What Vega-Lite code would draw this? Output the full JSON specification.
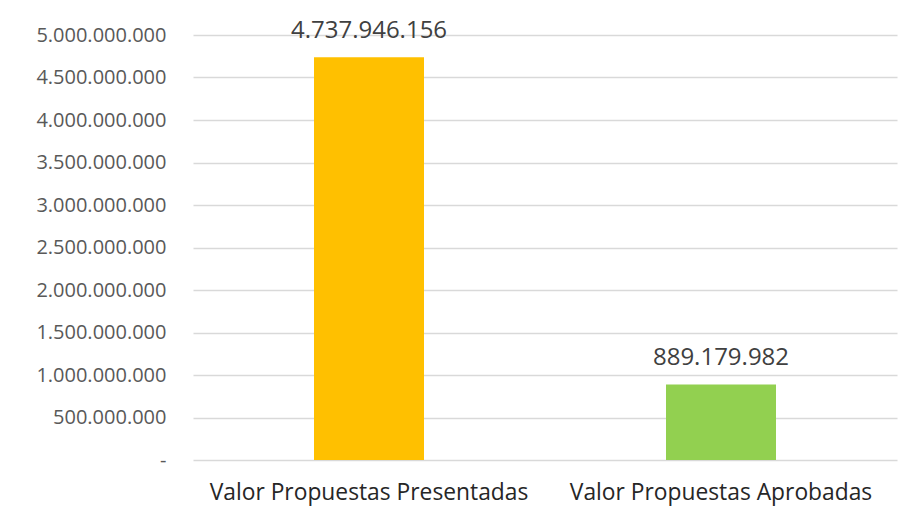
{
  "$schema": "https://vega.github.io/schema/vega-lite/v6.json",
  "width": 704,
  "height": 425,
  "autosize": {"type": "none"},
  "padding": {"left": 193, "top": 35, "right": 14, "bottom": 57},
  "background": "white",
  "config": {
    "locale": {"number": {"decimal": ",", "thousands": ".", "grouping": [3], "currency": ["$", ""]}},
    "view": {"stroke": null},
    "font": "Open Sans"
  },
  "data": {"values": [
    {"categoria": "Valor Propuestas Presentadas", "valor": 4737946156},
    {"categoria": "Valor Propuestas Aprobadas", "valor": 889179982}
  ]},
  "encoding": {
    "x": {
      "field": "categoria", "type": "nominal", "sort": null,
      "scale": {"paddingInner": 0, "paddingOuter": 0},
      "axis": {"title": null, "labelAngle": 0, "ticks": false, "domain": false, "labelPadding": 21, "labelFontSize": 22.8, "labelLimit": 0, "labelColor": "#262626", "labelFont": "Open Sans"}
    },
    "y": {
      "field": "valor", "type": "quantitative",
      "scale": {"domain": [0, 5000000000], "nice": false},
      "axis": {"title": null, "values": [0, 500000000, 1000000000, 1500000000, 2000000000, 2500000000, 3000000000, 3500000000, 4000000000, 4500000000, 5000000000], "labelExpr": "datum.value == 0 ? '-' : format(datum.value, ',')", "ticks": false, "domain": false, "labelPadding": 27, "labelFontSize": 20, "labelLimit": 0, "labelColor": "#595959", "gridColor": "#D9D9D9", "gridWidth": 1.3}
    }
  },
  "layer": [
    {
      "mark": {"type": "bar", "size": 110},
      "encoding": {
        "color": {"field": "categoria", "type": "nominal", "legend": null,
          "scale": {"domain": ["Valor Propuestas Presentadas", "Valor Propuestas Aprobadas"], "range": ["#FFC000", "#92D050"]}}
      }
    },
    {
      "mark": {"type": "text", "dy": -26, "fontSize": 24, "color": "#404040"},
      "encoding": {"text": {"field": "valor", "type": "quantitative", "format": ","}}
    }
  ]
}
